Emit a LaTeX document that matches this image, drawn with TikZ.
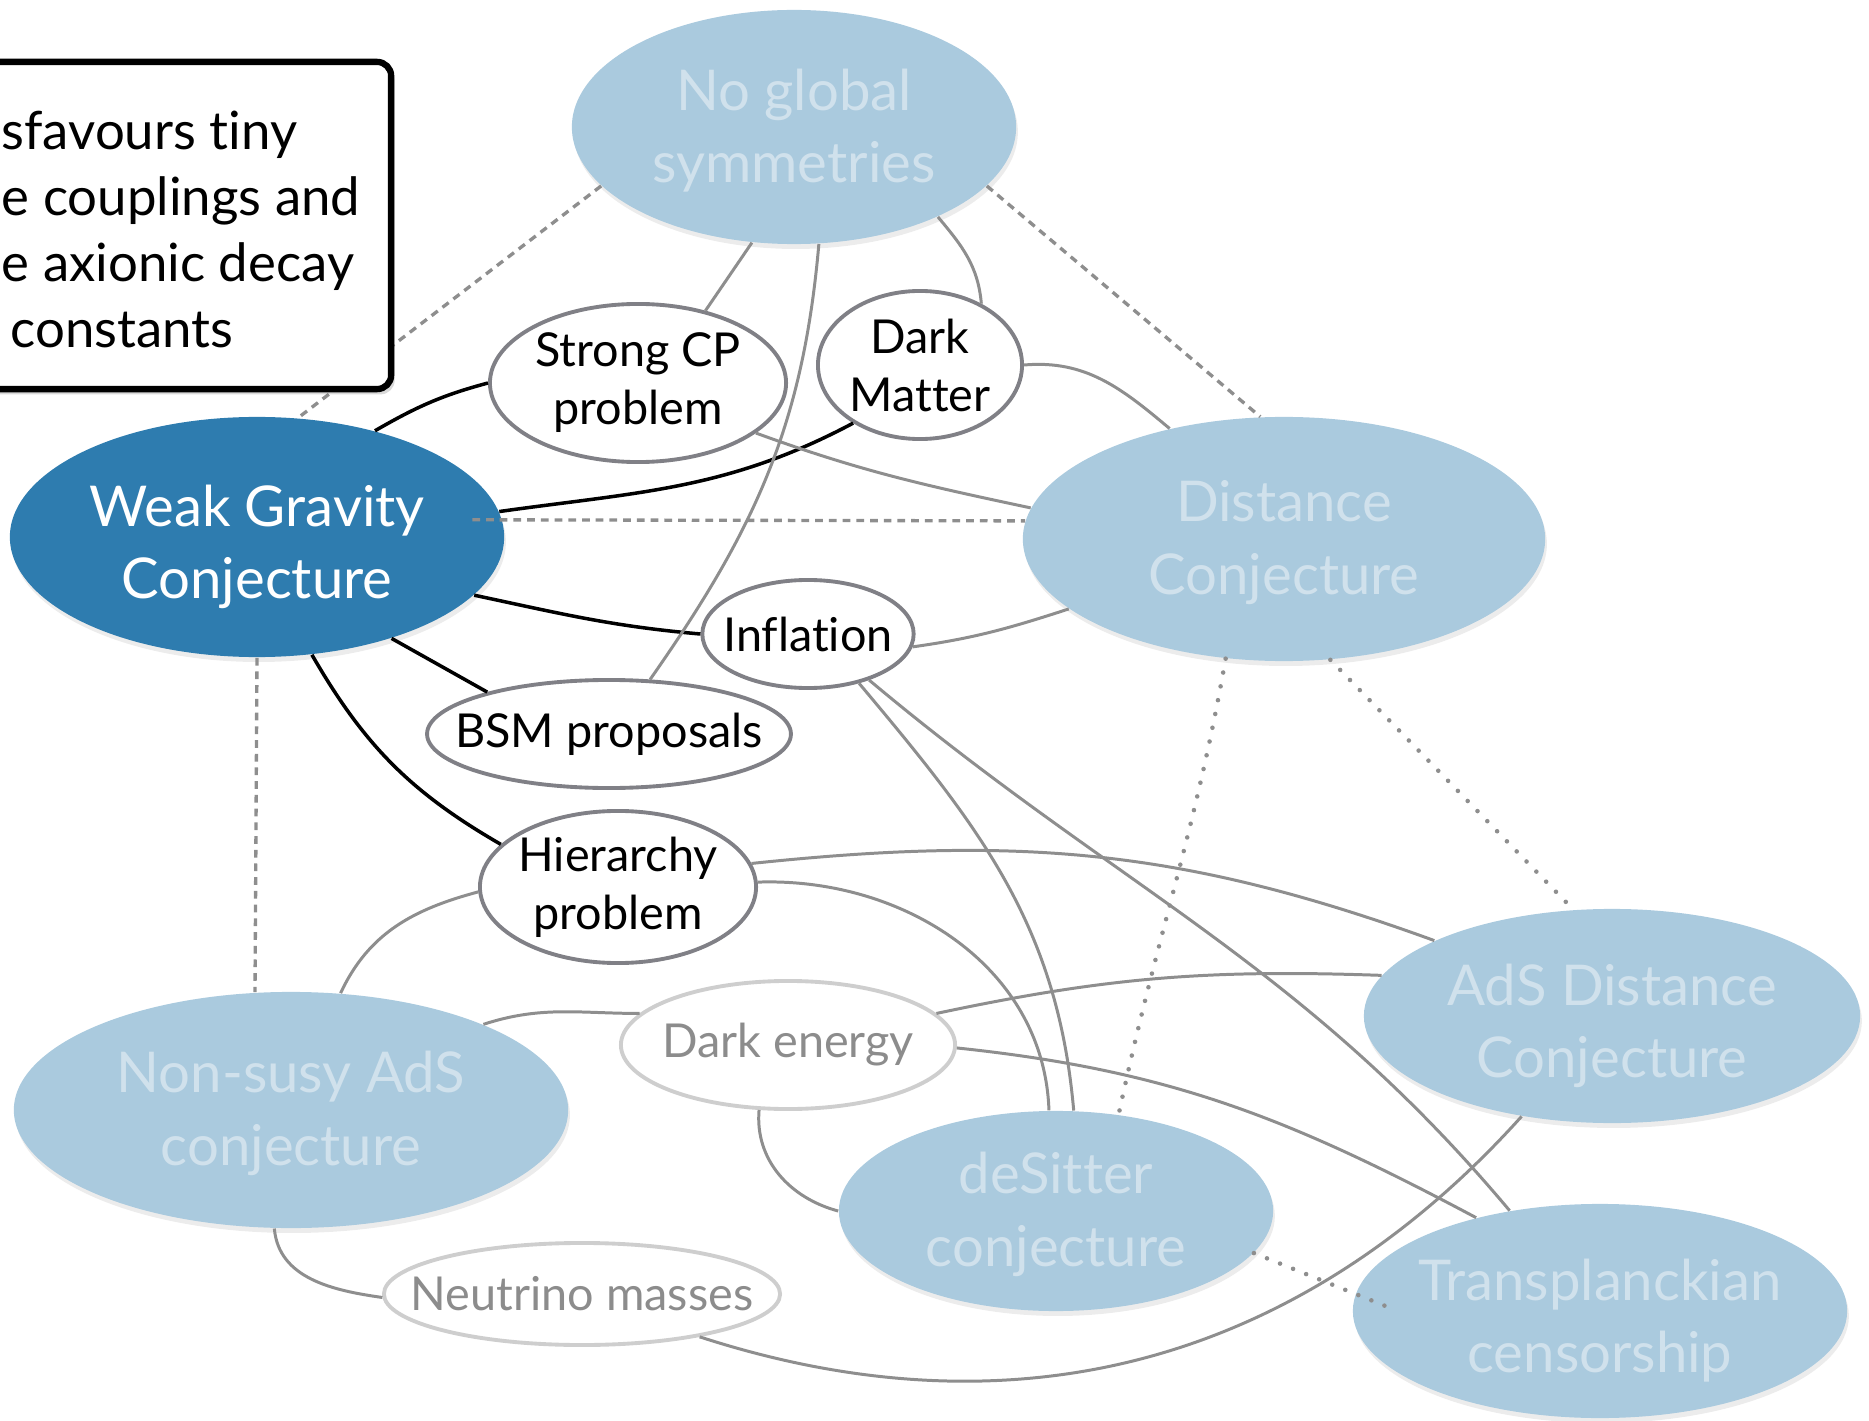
\documentclass[tikz,border=0pt]{standalone}
\usepackage{fontspec}
\setmainfont{Lato}[Ligatures=CommonOff]
\usetikzlibrary{shapes.geometric,shadows}

\definecolor{paleblue}{RGB}{170,202,222}
\definecolor{deepblue}{RGB}{46,124,175}
\definecolor{palefont}{RGB}{208,225,236}
\definecolor{rimgray}{RGB}{128,128,134}
\definecolor{linkgray}{RGB}{142,142,142}
\definecolor{faintrim}{RGB}{206,206,206}
\definecolor{faintfont}{RGB}{140,140,140}

\tikzset{conj/.style={ellipse,fill=paleblue,text=palefont,align=center,inner ysep=0pt,
  inner xsep=-0.1cm,font=\fontsize{16}{20.5}\selectfont,text height=34.2pt,
  drop shadow={opacity=0.15,shadow xshift=0.5pt,shadow yshift=-1.4pt}}}
\tikzset{lowtext/.style={text height=38pt}}
\tikzset{wgcconj/.style={conj,lowtext,fill=deepblue,text=white}}
\tikzset{topic/.style={ellipse,draw=rimgray,line width=1.1pt,fill=white,align=center,
  inner sep=0pt,font=\fontsize{13.3}{16.5}\selectfont}}
\tikzset{faint/.style={topic,draw=faintrim,text=faintfont}}
\tikzset{link/.style={draw=linkgray,line width=0.85pt}}
\tikzset{strong/.style={draw=black,line width=1pt}}
\tikzset{dashlink/.style={draw=linkgray,line width=0.95pt,dash pattern=on 2.2pt off 1.7pt}}
\tikzset{dotlink/.style={draw=linkgray,line width=1.3pt,line cap=round,dash pattern=on 0pt off 4pt}}

\begin{document}
\begin{tikzpicture}[x=0.01cm,y=0.01cm]
	\clip (0,0) rectangle (1869,1420);

	% the conjectures
	\node[wgcconj,minimum width=4.94cm,minimum height=2.40cm] (wgc) at (257,883) {Weak Gravity\\Conjecture};
	\node[conj,minimum width=4.44cm,minimum height=2.34cm] (nog) at (794,1293) {No global\\symmetries};
	\node[conj,minimum width=5.22cm,minimum height=2.44cm] (dist) at (1284,881) {Distance\\Conjecture};
	\node[conj,minimum width=5.54cm,minimum height=2.36cm] (nsads) at (291,310) {Non-susy AdS\\conjecture};
	\node[conj,lowtext,minimum width=4.96cm,minimum height=2.14cm] (adsd) at (1612,404) {AdS Distance\\Conjecture};
	\node[conj,minimum width=4.34cm,minimum height=2.00cm] (dsit) at (1056,209) {deSitter\\conjecture};
	\node[conj,lowtext,minimum width=4.94cm,minimum height=2.14cm] (tpc) at (1600,109) {Transplanckian\\censorship};

	% the phenomenology
	\node[topic,minimum width=2.96cm,minimum height=1.58cm,inner xsep=-0.03cm] (scp) at (638,1037) {Strong CP\\problem};
	\node[topic,minimum width=2.04cm,minimum height=1.48cm] (dm) at (920,1055) {Dark\\Matter};
	\node[topic,minimum width=2.08cm,minimum height=1.08cm,inner xsep=-0.1cm] (infl) at (808,786) {Inflation};
	\node[topic,minimum width=3.56cm,minimum height=1.08cm,inner xsep=-0.25cm] (bsm) at (609,686) {BSM proposals};
	\node[topic,minimum width=2.76cm,minimum height=1.52cm,inner xsep=-0.04cm] (hier) at (618,533) {Hierarchy\\problem};
	\node[faint,minimum width=3.34cm,minimum height=1.28cm,inner xsep=-0.12cm] (de) at (788,375) {Dark energy};
	\node[faint,minimum width=3.96cm,minimum height=1.02cm,inner xsep=-0.32cm] (nu) at (582,126) {Neutrino masses};

	% links of the weak gravity conjecture
	\draw[strong] (wgc.42) to[out=30,in=195] (scp.180);
	\draw[strong] (wgc.6) to[out=8,in=208] (dm.221);
	\draw[strong] (wgc.-15) to[out=-12,in=175] (infl.180);
	\draw[strong] (wgc.-37) -- (bsm.161);
	\draw[strong] (wgc.-65) to[out=-60,in=150] (hier.160);

	% other links
	\draw[link] (nog.-110) -- (scp.47);
	\draw[link] (nog.-78) to[out=-95,in=55] (bsm.53);
	\draw[link] (nog.-32) to[out=-50,in=95] (dm.45);
	\draw[link] (dm.0) to[out=5,in=140] (dist.136);
	\draw[link] (scp.-23) to[out=-20,in=168] (dist.173);
	\draw[link] (infl.-7) to[out=8,in=198] (dist.198);
	\draw[link] (infl.-44) to[out=-50,in=95] (dsit.80);
	\draw[link] (infl.-37) to[out=-40,in=130] (tpc.132);
	\draw[link] (hier.2) to[out=2,in=92] (dsit.94);
	\draw[link] (hier.10) to[out=6,in=160] (adsd.157);
	\draw[link] (hier.182) to[out=195,in=65] (nsads.67);
	\draw[link] (nsads.24) to[out=18,in=180] (de.168);
	\draw[link] (de.12) to[out=12,in=178] (adsd.170);
	\draw[link] (de.-1) to[out=-6,in=152] (tpc.143);
	\draw[link] (de.-114) to[out=-95,in=165] (dsit.180);
	\draw[link] (nsads.-98) to[out=-85,in=172] (nu.181);
	\draw[link] (nu.-20) to[out=-18,in=228] (adsd.228);

	% dashed and dotted relations
	\draw[dashlink] (nog.197.6) -- (wgc.71);
	\draw[dashlink,shorten <=-0.3cm] (wgc.4) -- (dist.176);
	\draw[dashlink] (wgc.south) -- (nsads.107);
	\draw[dashlink] (nog.-17) -- (dist.101);
	\draw[dotlink] (dist.-116) to[out=-100,in=78] (dsit.57);
	\draw[dotlink] (dist.-69) -- (adsd.110);
	\draw[dotlink,shorten >=-0.4cm] (dsit.-12) -- (tpc.176);

	% the note on the left
	\node[draw=black,line width=1.8pt,rounded corners=4pt,fill=white,minimum width=5.42cm,
	  minimum height=3.27cm,drop shadow={opacity=0.3,shadow xshift=1pt,shadow yshift=-1.5pt}]
	  (note) at (120,1194.5) {};
	\node[anchor=west,align=left,inner sep=0pt,font=\fontsize{15}{18.7}\selectfont] (notetext) at (1,1190.5)
	  {sfavours tiny\\e couplings and\\e axionic decay\\\hspace*{0.09cm}constants};
\end{tikzpicture}
\end{document}
